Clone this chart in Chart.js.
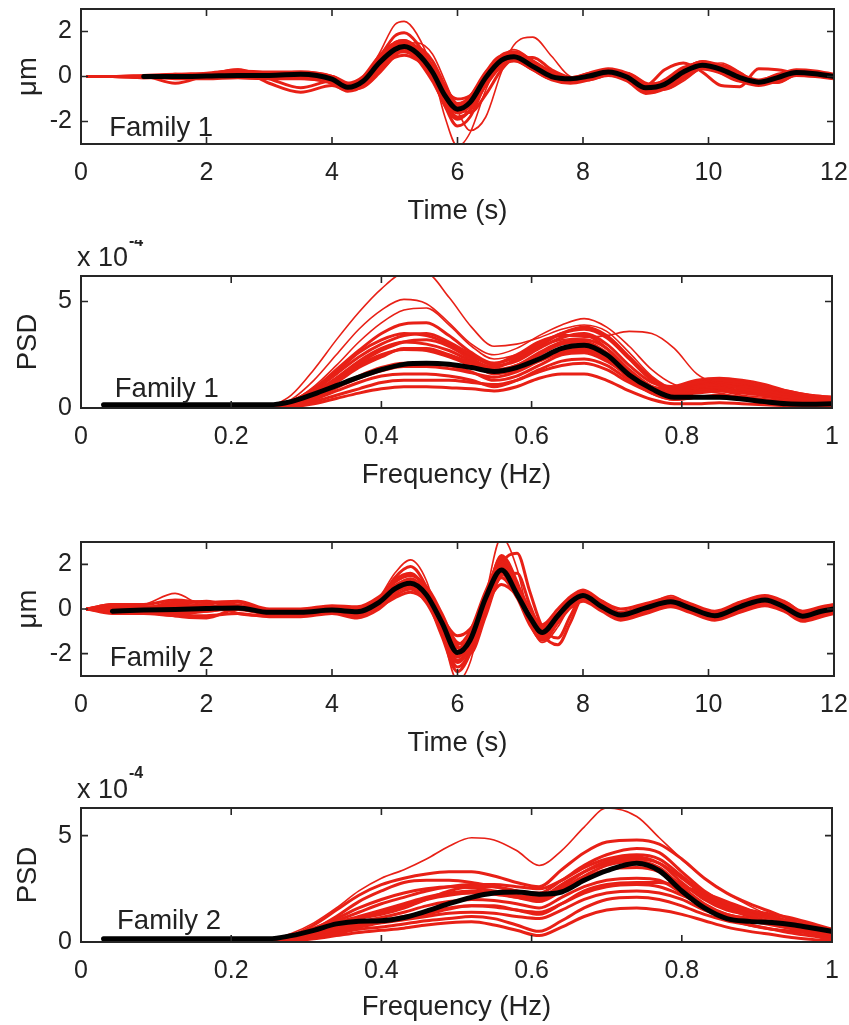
<!DOCTYPE html>
<html>
<head>
<meta charset="utf-8">
<script src="https://cdn.jsdelivr.net/npm/chart.js@4.4.0/dist/chart.umd.min.js"></script>
<style>
body { margin:0; background:#fff; width:849px; height:1025px; position:relative; overflow:hidden; }
.panel { position:absolute; left:0; width:849px; }
</style>
</head>
<body>
<div class="panel" style="top:0;height:240px"><canvas id="c1"></canvas></div>
<div class="panel" style="top:240px;height:260px"><canvas id="c2"></canvas></div>
<div class="panel" style="top:500px;height:260px"><canvas id="c3"></canvas></div>
<div class="panel" style="top:760px;height:265px"><canvas id="c4"></canvas></div>
<script>
// tick labels
var timeTicks = [0, 2, 4, 6, 8, 10, 12];
var freqTicks = [0, 0.2, 0.4, 0.6, 0.8, 1];
var dispTicks = [-2, 0, 2];
var psdTicks = [0, 5];

// Family 1, displacement (um) vs time (s); first two members are the outliers
var time1 = [0.1,0.5,1,1.5,2,2.5,3,3.5,4,4.25,4.5,4.75,5,5.15,5.35,5.6,5.8,6.0,6.2,6.45,6.7,6.9,7.2,7.5,7.8,8.1,8.4,8.7,9.0,9.3,9.6,9.9,10.2,10.5,10.8,11.1,11.4,11.7,12];
var disp1Mean = [null,null,0,0,0.02,0.05,0.05,0.1,-0.12,-0.48,-0.2,0.6,1.2,1.33,1.05,0.2,-0.85,-1.45,-1.15,-0.05,0.72,0.88,0.45,0.0,-0.1,0.02,0.2,-0.02,-0.5,-0.35,0.2,0.5,0.32,-0.05,-0.25,-0.05,0.18,0.12,0.0];
var disp1Members = [
  [0,0,0,0.05,0.1,0.2,0.15,0.1,-0.2,-0.5,-0.1,1.0,2.3,2.45,1.9,0.3,-1.8,-3.1,-2.5,-0.6,0.8,1.2,0.7,0.1,-0.2,0.0,0.3,0.0,-0.6,-0.4,0.3,0.7,0.5,0.0,-0.3,-0.1,0.2,0.2,0.05],
  [0,0,0,-0.05,0,0.1,0.05,-0.1,-0.3,-0.6,-0.5,0.1,0.9,1.4,1.5,1.0,-0.2,-1.5,-2.4,-1.8,0.2,1.4,1.75,0.9,0.0,-0.1,0.15,0.15,-0.3,-0.6,-0.2,0.4,0.6,0.2,-0.3,-0.3,0.1,0.2,0],
  [0,0,0,0,0.1,0.3,-0.3,-0.7,-0.4,-0.6,-0.25,0.7,1.5,1.6,1.2,0.1,-1.1,-1.8,-1.5,-0.2,0.85,1.05,0.55,-0.05,-0.25,-0.05,0.25,0.05,-0.5,-0.3,0.2,0.55,0.3,-0.1,-0.3,-0.1,0.2,0.15,0],
  [0,0,0,0,0,0.1,0.1,0.2,0,-0.4,-0.25,0.5,1.1,1.2,1.0,0.15,-0.9,-1.5,-1.2,-0.1,0.6,0.8,0.4,0.0,-0.1,0.05,0.2,-0.05,-0.4,0.3,0.6,0.2,-0.4,-0.45,0.35,0.3,0.15,0.1,0],
  [0,0,0,0.05,0.05,0.05,0,0.05,-0.1,-0.35,-0.15,0.45,0.85,0.95,0.75,0.15,-0.6,-1.0,-0.85,-0.05,0.55,0.7,0.4,0.05,-0.1,0.05,0.15,0,-0.35,-0.25,0.1,0.35,0.25,0,-0.2,-0.05,0.15,0.1,0],
  [0,0,-0.05,0,0.1,0.2,0.1,0.05,-0.2,-0.55,-0.25,0.8,1.8,1.95,1.5,0.2,-1.3,-2.2,-1.8,-0.3,0.75,1.05,0.6,0.0,-0.25,-0.05,0.25,0.05,-0.65,-0.45,0.3,0.65,0.4,-0.05,-0.35,-0.1,0.25,0.2,0.05],
  [0,0,0,0.1,0.15,0.25,0.2,0.2,0,-0.3,0.0,0.8,1.5,1.6,1.3,0.45,-0.6,-1.2,-0.9,0.15,0.95,1.1,0.7,0.2,-0.05,0.15,0.35,0.15,-0.35,-0.2,0.35,0.65,0.45,0.1,-0.15,0.05,0.3,0.25,0.1],
  [0,0,0,-0.1,-0.1,-0.05,-0.1,-0.1,-0.3,-0.65,-0.4,0.4,1.0,1.1,0.8,-0.1,-1.3,-1.9,-1.5,-0.35,0.45,0.7,0.3,-0.15,-0.3,-0.15,0.05,-0.2,-0.75,-0.55,0.0,0.35,0.15,-0.2,-0.4,-0.2,0.05,0,-0.1],
  [0,0,0,0,0.05,0.1,0.1,0.05,0,-0.3,-0.4,0.2,0.9,1.25,1.3,0.7,-0.4,-1.3,-1.6,-0.8,0.3,0.8,0.85,0.3,-0.05,-0.15,0.1,0.15,-0.3,-0.55,-0.1,0.4,0.5,0.15,-0.25,-0.25,0.1,0.2,0.05],
  [0,0,0,-0.3,0.05,0.3,-0.1,-0.5,-0.2,-0.5,-0.2,0.6,1.3,1.4,1.0,0.1,-1.0,-1.6,-1.3,-0.2,0.7,0.9,0.5,0.0,-0.2,0.0,0.2,0.0,-0.5,-0.4,0.2,0.5,0.3,-0.1,-0.3,-0.1,0.2,0.1,0],
  [0,0,0.05,0.1,0.05,0.15,0.1,0.15,-0.05,-0.4,-0.1,0.7,1.4,1.5,1.15,0.3,-0.8,-1.35,-1.05,0.0,0.8,0.95,0.55,0.1,-0.05,0.1,0.25,0.05,-0.45,-0.3,0.25,0.55,0.35,0.0,-0.2,0.0,0.25,0.15,0.05],
  [0,0,-0.05,-0.05,0,0.0,-0.05,0.0,-0.2,-0.55,-0.3,0.5,1.05,1.2,0.9,0.05,-1.0,-1.6,-1.3,-0.15,0.6,0.8,0.4,-0.05,-0.2,-0.05,0.15,-0.05,-0.6,-0.45,0.1,0.45,0.25,-0.1,-0.3,-0.1,0.1,0.05,-0.05],
  [0,0,0.02,0.03,0.06,0.12,0.12,0.18,-0.05,-0.4,-0.12,0.7,1.3,1.4,1.1,0.3,-0.75,-1.3,-1.0,0.05,0.8,0.95,0.5,0.08,-0.05,0.08,0.26,0.04,-0.42,-0.28,0.26,0.56,0.38,0.0,-0.2,0.0,0.22,0.16,0.04],
  [0,0,-0.03,-0.04,-0.03,-0.05,-0.08,0.02,-0.2,-0.58,-0.3,0.45,1.05,1.18,0.95,0.1,-0.95,-1.62,-1.3,-0.18,0.6,0.78,0.38,-0.08,-0.18,-0.05,0.12,-0.1,-0.6,-0.45,0.12,0.42,0.25,-0.12,-0.32,-0.12,0.1,0.06,-0.05],
  [0,0,0,0.05,0.1,0.1,0.05,0.1,-0.25,-0.5,0.0,0.9,1.45,1.3,0.8,-0.2,-1.2,-1.55,-0.9,0.2,0.9,0.8,0.3,-0.1,-0.1,0.15,0.2,-0.15,-0.55,-0.15,0.4,0.55,0.15,-0.2,-0.2,0.1,0.2,0.05,0],
  [0,0,0,0,0,0.05,0.1,0.05,0.0,-0.35,-0.35,0.3,1.0,1.3,1.2,0.5,-0.6,-1.35,-1.35,-0.4,0.5,0.9,0.65,0.15,-0.15,-0.05,0.2,0.1,-0.4,-0.45,0.05,0.45,0.45,0.05,-0.3,-0.15,0.15,0.15,0.05]
];

// Family 1, PSD (x 10^-4) vs frequency (Hz); first three members are the outliers
var freq1 = [0.03,0.1,0.2,0.25,0.28,0.31,0.34,0.37,0.4,0.43,0.46,0.49,0.52,0.55,0.58,0.61,0.64,0.67,0.7,0.73,0.76,0.79,0.82,0.85,0.88,0.91,0.94,0.97,1.0];
var psd1Mean = [0.15,0.15,0.15,0.15,0.3,0.65,1.05,1.45,1.8,2.05,2.1,2.05,1.9,1.72,1.9,2.3,2.8,2.95,2.5,1.55,0.9,0.5,0.5,0.5,0.42,0.3,0.2,0.18,0.2];
var psd1Members = [
  [null,null,null,0,0.6,1.8,3.2,4.5,5.6,6.3,6.3,5.2,3.8,2.9,3.0,3.3,3.7,3.9,3.6,2.6,1.5,0.9,0.8,0.7,0.5,0.4,0.3,0.2,0.2],
  [null,null,null,0,0.4,1.3,2.5,3.7,4.6,5.1,4.9,4.0,3.0,2.5,2.8,3.4,3.9,4.2,3.8,2.9,1.8,1.1,0.9,0.8,0.6,0.5,0.4,0.3,0.3],
  [null,null,null,0,0.3,1.0,2.0,3.1,4.0,4.6,4.7,3.9,2.9,2.3,2.5,2.9,3.2,3.3,3.4,3.6,3.5,2.8,1.6,1.1,0.8,0.6,0.4,0.3,0.3],
  [null,null,null,0,0.3,0.9,1.8,2.7,3.5,3.95,4.0,3.4,2.6,2.1,2.4,3.0,3.5,3.7,3.3,2.3,1.3,0.8,1.0,1.1,0.9,0.7,0.5,0.4,0.4],
  [null,null,null,0,0.2,0.8,1.6,2.4,3.0,3.4,3.5,3.1,2.5,2.0,2.2,2.8,3.3,3.5,3.0,2.0,1.2,1.0,1.2,1.3,1.2,1.0,0.8,0.6,0.5],
  [null,null,null,0,0.2,0.6,1.2,1.9,2.4,2.8,2.8,2.5,2.1,1.6,1.8,2.3,2.7,2.8,2.4,1.6,0.9,0.7,0.9,1.0,1.0,0.8,0.6,0.4,0.3],
  [null,null,null,0,0.1,0.4,0.8,1.2,1.5,1.6,1.6,1.5,1.3,1.0,1.3,1.8,2.2,2.3,2.0,1.3,0.7,0.4,0.5,0.6,0.5,0.4,0.3,0.2,0.1],
  [null,null,null,0,0.05,0.2,0.45,0.7,0.9,1.0,1.0,0.95,0.9,0.8,1.0,1.4,1.6,1.6,1.3,0.8,0.4,0.2,0.2,0.25,0.2,0.15,0.1,0.05,0.02],
  [null,null,null,0,0.25,0.7,1.4,2.1,2.7,3.1,3.2,2.9,2.3,1.9,2.3,2.9,3.5,3.8,3.4,2.4,1.4,0.9,1.1,1.2,1.1,0.9,0.7,0.5,0.4],
  [null,null,null,0,0.1,0.3,0.6,0.9,1.2,1.3,1.3,1.3,1.2,1.1,1.3,1.7,2.0,2.1,1.8,1.2,0.8,1.0,1.3,1.4,1.3,1.1,0.8,0.6,0.5],
  [null,null,null,0,0.15,0.5,1.0,1.5,1.9,2.1,2.1,2.0,1.7,1.3,1.5,2.0,2.5,2.6,2.2,1.5,0.8,0.6,0.7,0.8,0.7,0.6,0.4,0.3,0.2],
  [null,null,null,0,0.2,0.7,1.4,2.2,2.8,3.1,3.0,2.7,2.2,1.8,2.0,2.6,3.1,3.2,2.8,1.8,1.0,0.6,0.8,0.9,0.8,0.6,0.4,0.3,0.2],
  [null,null,null,0,0.2,0.65,1.3,2.0,2.5,2.75,2.7,2.4,2.0,1.7,2.0,2.5,3.0,3.1,2.6,1.7,1.0,0.7,0.8,0.9,0.8,0.6,0.4,0.3,0.25],
  [null,null,null,0,0.1,0.45,0.95,1.4,1.75,1.95,1.95,1.85,1.65,1.45,1.7,2.2,2.6,2.7,2.3,1.4,0.7,0.4,0.5,0.55,0.5,0.35,0.25,0.15,0.1],
  [null,null,null,0,0.3,0.9,1.7,2.6,3.2,3.5,3.4,3.0,2.4,2.1,2.5,3.1,3.4,3.4,2.8,1.7,1.0,0.9,1.1,1.2,1.0,0.8,0.6,0.45,0.35]
];

// Family 2, displacement (um) vs time (s); first member is the outlier
var time2 = [0.1,0.5,1,1.5,2,2.5,3,3.5,4,4.4,4.75,5.0,5.25,5.5,5.75,6.0,6.2,6.45,6.7,6.95,7.15,7.35,7.6,7.8,8.0,8.3,8.6,9.0,9.4,9.7,10.1,10.5,10.9,11.2,11.5,11.8,12];
var disp2Mean = [null,-0.1,-0.05,-0.02,0.02,0.05,-0.15,-0.15,-0.05,-0.12,0.3,0.9,1.15,0.65,-0.6,-1.95,-1.4,0.5,1.75,0.65,-0.35,-1.05,-0.3,0.3,0.6,0.1,-0.27,0.05,0.32,0.05,-0.3,0.1,0.4,0.1,-0.32,-0.1,0.0];
var disp2Members = [
  [0,0.1,0.2,0.7,0.1,0.2,-0.1,-0.2,0.1,-0.3,0.5,1.6,2.2,1.3,-1.0,-3.2,-2.4,0.6,3.2,1.8,-0.5,-1.5,-0.8,0.2,0.8,0.3,-0.4,0.1,0.6,0.2,-0.4,0.2,0.6,0.2,-0.4,-0.2,0.1],
  [0,0,-0.1,-0.3,0.0,0.3,-0.2,-0.3,0.0,-0.2,0.1,0.7,1.2,1.0,-0.2,-1.7,-2.0,-0.3,1.5,1.6,0.2,-1.1,-1.6,-0.6,0.5,0.3,-0.2,-0.1,0.3,0.2,-0.2,-0.1,0.3,0.3,-0.2,-0.3,0.0],
  [0,0.2,0.1,0.1,0.2,-0.2,-0.3,-0.2,0.05,-0.05,0.5,1.3,1.6,0.8,-0.9,-2.4,-1.7,0.5,2.3,1.0,-0.5,-1.2,-0.4,0.4,0.7,0.2,-0.3,0.15,0.45,0.1,-0.35,0.15,0.5,0.2,-0.3,-0.05,0.05],
  [0,-0.05,0,0.1,-0.1,0.1,-0.1,-0.1,-0.1,-0.2,0.1,0.5,0.75,0.4,-0.4,-1.2,-0.9,0.2,1.1,0.6,-0.3,-0.8,-0.2,0.2,0.45,0.0,-0.35,-0.05,0.2,0.0,-0.4,-0.05,0.25,0.0,-0.45,-0.2,-0.1],
  [0,0.1,0.05,0.3,0.3,0.1,-0.1,-0.05,0.1,-0.05,0.4,1.0,1.35,0.8,-0.5,-2.1,-1.5,0.5,2.0,0.9,-0.3,-0.9,-0.2,0.4,0.7,0.2,-0.15,0.15,0.4,0.15,-0.2,0.2,0.5,0.2,-0.2,0.0,0.1],
  [0,-0.1,-0.1,-0.2,-0.1,0.05,-0.2,-0.25,-0.1,-0.3,0.2,0.9,1.3,0.5,-1.2,-2.8,-2.0,0.2,2.4,1.2,-0.5,-1.3,-0.5,0.2,0.55,0.0,-0.4,-0.1,0.2,-0.05,-0.45,-0.1,0.3,0.0,-0.5,-0.25,-0.15],
  [0,0.2,0.2,0.4,0.3,0.35,0.0,0.0,0.15,0.1,0.55,1.2,1.5,1.0,-0.3,-1.6,-1.0,0.8,2.1,1.1,0.0,-0.7,0.0,0.55,0.85,0.35,0.0,0.25,0.5,0.25,-0.1,0.3,0.6,0.35,-0.1,0.1,0.2],
  [0,-0.2,-0.2,-0.3,-0.3,-0.2,-0.35,-0.35,-0.2,-0.4,0.0,0.6,0.9,0.3,-1.0,-2.3,-1.7,0.0,1.4,0.5,-0.7,-1.35,-0.6,0.05,0.35,-0.1,-0.5,-0.2,0.1,-0.15,-0.5,-0.15,0.15,-0.1,-0.55,-0.35,-0.2],
  [0,0,0.1,-0.3,-0.4,0.0,-0.1,-0.1,0.0,-0.15,0.3,0.9,1.1,0.5,-0.8,-1.9,-1.4,0.3,1.9,0.8,-0.4,-1.1,-0.3,0.3,0.6,0.1,-0.25,0.05,0.3,0.05,-0.3,0.1,0.4,0.1,-0.35,-0.1,0.0],
  [0,0.05,0.0,0.2,0.1,0.1,-0.2,-0.1,0.05,-0.1,0.3,0.8,1.0,0.7,-0.3,-1.5,-1.6,-0.2,2.0,2.5,0.8,-0.8,-1.3,-0.3,0.6,0.35,-0.2,0.0,0.35,0.2,-0.2,0.0,0.45,0.3,-0.2,-0.2,0.05],
  [0,0.05,0.05,0.05,0.1,0.1,-0.05,-0.05,0.05,0.0,0.4,1.05,1.3,0.8,-0.45,-1.75,-1.2,0.6,1.9,0.8,-0.25,-0.95,-0.2,0.4,0.7,0.2,-0.18,0.12,0.4,0.12,-0.22,0.18,0.48,0.18,-0.25,-0.05,0.08],
  [0,-0.12,-0.1,-0.08,-0.05,-0.02,-0.22,-0.22,-0.12,-0.22,0.2,0.75,1.0,0.5,-0.8,-2.15,-1.55,0.35,1.6,0.55,-0.5,-1.15,-0.4,0.2,0.5,0.02,-0.35,-0.02,0.25,-0.02,-0.38,0.02,0.32,0.02,-0.4,-0.18,-0.08],
  [0,0.15,0.0,0.2,0.35,0.0,-0.1,-0.15,0.0,-0.25,0.35,1.4,1.9,1.0,-1.0,-2.6,-1.9,0.4,2.2,1.0,-0.6,-1.4,-0.6,0.3,0.75,0.15,-0.35,0.05,0.4,0.1,-0.35,0.1,0.5,0.15,-0.35,-0.15,0.0]
];

// Family 2, PSD (x 10^-4) vs frequency (Hz); first member is the outlier
var freq2 = [0.03,0.1,0.2,0.25,0.28,0.31,0.34,0.37,0.4,0.43,0.46,0.49,0.52,0.55,0.58,0.61,0.64,0.67,0.7,0.74,0.77,0.8,0.83,0.86,0.89,0.92,0.95,0.98,1.0];
var psd2Mean = [0.15,0.15,0.15,0.15,0.3,0.55,0.85,0.98,1.0,1.15,1.45,1.8,2.1,2.3,2.35,2.25,2.35,2.9,3.35,3.7,3.35,2.4,1.6,1.1,0.97,0.92,0.8,0.62,0.5];
var psd2Members = [
  [null,null,0,0.1,0.4,0.9,1.6,2.4,3.0,3.4,3.9,4.5,4.9,4.8,4.3,3.6,4.3,5.4,6.3,5.9,4.9,3.9,3.0,2.3,1.7,1.2,0.8,0.5,0.3],
  [null,null,0,0.1,0.3,0.8,1.5,2.2,2.7,3.0,3.2,3.3,3.3,3.1,2.8,2.6,3.4,4.2,4.7,4.8,4.6,3.9,3.0,2.3,1.8,1.4,1.0,0.7,0.5],
  [null,null,0,0.05,0.2,0.6,1.2,1.9,2.4,2.8,2.9,2.9,2.8,2.6,2.4,2.3,2.9,3.6,4.1,4.4,4.2,3.3,2.4,1.8,1.5,1.3,1.1,0.8,0.6],
  [null,null,0,0.05,0.2,0.45,0.8,1.1,1.3,1.6,2.0,2.4,2.6,2.6,2.4,2.2,2.6,3.3,3.8,4.0,3.7,2.8,2.0,1.5,1.3,1.1,0.9,0.6,0.45],
  [null,null,0,0,0.1,0.25,0.4,0.6,0.7,0.85,1.0,1.1,1.2,1.1,0.8,0.5,1.0,1.6,2.0,2.1,2.0,1.7,1.3,1.0,0.8,0.6,0.4,0.25,0.1],
  [null,null,0,0,0.05,0.15,0.3,0.45,0.55,0.65,0.8,0.9,0.95,0.8,0.55,0.3,0.7,1.2,1.5,1.6,1.5,1.3,1.0,0.7,0.5,0.35,0.2,0.1,0.05],
  [null,null,0,0.05,0.25,0.55,0.9,1.2,1.5,1.8,2.1,2.3,2.4,2.3,2.1,1.9,2.4,3.0,3.4,3.5,3.3,2.7,2.1,1.6,1.3,1.1,0.9,0.6,0.4],
  [null,null,0,0.0,0.15,0.35,0.6,0.85,1.0,1.2,1.4,1.6,1.7,1.7,1.5,1.3,1.8,2.4,2.7,2.8,2.8,2.6,2.3,1.9,1.5,1.2,0.9,0.6,0.5],
  [null,null,0,0.05,0.2,0.4,0.7,0.95,1.15,1.4,1.7,1.9,2.0,1.95,1.8,1.6,2.1,2.6,2.9,3.0,2.9,2.3,1.6,1.1,0.8,0.6,0.5,0.35,0.2],
  [null,null,0,0.1,0.3,0.6,1.0,1.4,1.8,2.1,2.4,2.6,2.7,2.7,2.6,2.5,2.9,3.5,3.9,4.1,3.9,3.1,2.3,1.7,1.4,1.2,0.9,0.7,0.6],
  [null,null,0,0,0.1,0.3,0.5,0.7,0.9,1.05,1.2,1.35,1.4,1.35,1.2,1.1,1.5,2.0,2.3,2.4,2.3,2.0,1.5,1.2,1.0,0.8,0.6,0.4,0.3],
  [null,null,0,0.05,0.2,0.5,0.85,1.15,1.4,1.7,2.0,2.2,2.3,2.25,2.1,2.0,2.5,3.1,3.6,3.8,3.5,2.6,1.8,1.3,1.1,0.95,0.8,0.55,0.4],
  [null,null,0,0.02,0.12,0.3,0.55,0.8,0.95,1.1,1.3,1.55,1.7,1.65,1.5,1.4,1.8,2.3,2.6,2.7,2.6,2.2,1.7,1.3,1.1,0.9,0.7,0.5,0.35],
  [null,null,0,0.08,0.3,0.65,1.1,1.6,2.0,2.3,2.5,2.6,2.55,2.4,2.2,2.1,2.7,3.3,3.7,3.9,3.7,3.0,2.2,1.6,1.2,0.95,0.7,0.5,0.35]
];

var RED = 'rgb(232,32,22)';
var FONT = '"Liberation Sans", Arial, Helvetica, sans-serif';
Chart.defaults.font.family = FONT;
Chart.defaults.font.size = 25;
Chart.defaults.color = '#222';

function points(xs, ys) {
  var out = [];
  for (var i = 0; i < xs.length; i++) out.push({x: xs[i], y: ys[i]});
  return out;
}

// matlab style box with inward ticks, plus the family label and exponent
var framePlugin = {
  id: 'frame',
  afterDatasetsDraw: function(chart, args, opts) {
    var ctx = chart.ctx, a = chart.chartArea;
    var xs = chart.scales.x, ys = chart.scales.y;
    ctx.save();
    ctx.strokeStyle = '#262626';
    ctx.lineWidth = 2;
    ctx.strokeRect(a.left, a.top, a.right - a.left, a.bottom - a.top);
    ctx.lineWidth = 1.6;
    ctx.beginPath();
    xs.ticks.forEach(function(t) {
      var p = xs.getPixelForValue(t.value);
      ctx.moveTo(p, a.bottom); ctx.lineTo(p, a.bottom - 7);
      ctx.moveTo(p, a.top); ctx.lineTo(p, a.top + 7);
    });
    ys.ticks.forEach(function(t) {
      var p = ys.getPixelForValue(t.value);
      ctx.moveTo(a.left, p); ctx.lineTo(a.left + 7, p);
      ctx.moveTo(a.right, p); ctx.lineTo(a.right - 7, p);
    });
    ctx.stroke();
    ctx.fillStyle = '#222';
    ctx.font = '27.5px ' + FONT;
    ctx.textBaseline = 'middle';
    ctx.textAlign = 'left';
    ctx.fillText(opts.label, xs.getPixelForValue(opts.labelX), ys.getPixelForValue(opts.labelY));
    if (opts.exponent) {
      ctx.font = '27px ' + FONT;
      ctx.fillText('x 10', a.left - 4, a.top - 17);
      ctx.font = 'bold 16px ' + FONT;
      ctx.fillText('-4', a.left + 48, a.top - 34);
    }
    ctx.restore();
  }
};

function makePanel(id, o) {
  var datasets = [{ data: points(o.x, o.mean), borderColor: '#000', borderWidth: 5, order: 0 }];
  o.members.forEach(function(m, i) {
    datasets.push({ data: points(o.x, m), borderColor: RED, borderWidth: i < o.outliers ? 1.6 : 3, order: 1 });
  });
  return new Chart(document.getElementById(id), {
    type: 'line',
    data: { datasets: datasets },
    options: {
      animation: false,
      responsive: true,
      maintainAspectRatio: false,
      events: [],
      elements: {
        point: { radius: 0 },
        line: { cubicInterpolationMode: 'monotone', borderJoinStyle: 'round', borderCapStyle: 'round' }
      },
      layout: { padding: { top: o.padTop, right: o.padRight, left: 0, bottom: 0 } },
      plugins: {
        legend: { display: false },
        tooltip: { enabled: false },
        frame: { label: o.label, labelX: o.labelX, labelY: o.labelY, exponent: o.exponent }
      },
      scales: {
        x: {
          type: 'linear', min: o.xMin, max: o.xMax,
          grid: { display: false, drawTicks: false },
          border: { display: false },
          afterBuildTicks: function(s) { s.ticks = o.xTicks.map(function(v) { return {value: v}; }); },
          afterFit: function(s) { s.height = o.xHeight; s.paddingLeft = 0; s.paddingRight = 0; },
          ticks: { padding: 14, maxRotation: 0, autoSkip: false, callback: function(v) { return String(v); } },
          title: { display: true, text: o.xTitle, font: { size: 27.5 }, padding: { top: 0, bottom: o.xTitlePad } }
        },
        y: {
          type: 'linear', min: o.yMin, max: o.yMax,
          grid: { display: false, drawTicks: false },
          border: { display: false },
          afterBuildTicks: function(s) { s.ticks = o.yTicks.map(function(v) { return {value: v}; }); },
          afterFit: function(s) { s.width = 81; s.paddingTop = 0; s.paddingBottom = 0; },
          ticks: { padding: 9, autoSkip: false, callback: function(v) { return String(v); } },
          title: { display: true, text: o.yTitle, font: { size: 27.5 }, padding: { top: 11.5, bottom: 0 } }
        }
      }
    },
    plugins: [framePlugin]
  });
}

makePanel('c1', {
  x: time1, mean: disp1Mean, members: disp1Members, outliers: 2,
  xMin: 0, xMax: 12, xTicks: timeTicks, yMin: -3, yMax: 3, yTicks: dispTicks,
  xTitle: 'Time (s)', yTitle: 'μm', label: 'Family 1', labelX: 0.45, labelY: -2.3,
  padTop: 9, padRight: 15, xHeight: 96, xTitlePad: 12.5
});
makePanel('c2', {
  x: freq1, mean: psd1Mean, members: psd1Members, outliers: 3,
  xMin: 0, xMax: 1, xTicks: freqTicks, yMin: 0, yMax: 6.2, yTicks: psdTicks,
  xTitle: 'Frequency (Hz)', yTitle: 'PSD', label: 'Family 1', labelX: 0.045, labelY: 0.85, exponent: true,
  padTop: 36, padRight: 17, xHeight: 92, xTitlePad: 8.5
});
makePanel('c3', {
  x: time2, mean: disp2Mean, members: disp2Members, outliers: 1,
  xMin: 0, xMax: 12, xTicks: timeTicks, yMin: -3, yMax: 3, yTicks: dispTicks,
  xTitle: 'Time (s)', yTitle: 'μm', label: 'Family 2', labelX: 0.46, labelY: -2.2,
  padTop: 42, padRight: 15, xHeight: 84, xTitlePad: 0.5
});
makePanel('c4', {
  x: freq2, mean: psd2Mean, members: psd2Members, outliers: 1,
  xMin: 0, xMax: 1, xTicks: freqTicks, yMin: 0, yMax: 6.3, yTicks: psdTicks,
  xTitle: 'Frequency (Hz)', yTitle: 'PSD', label: 'Family 2', labelX: 0.048, labelY: 0.95, exponent: true,
  padTop: 48, padRight: 17, xHeight: 83, xTitlePad: 1.5
});
</script>
</body>
</html>
